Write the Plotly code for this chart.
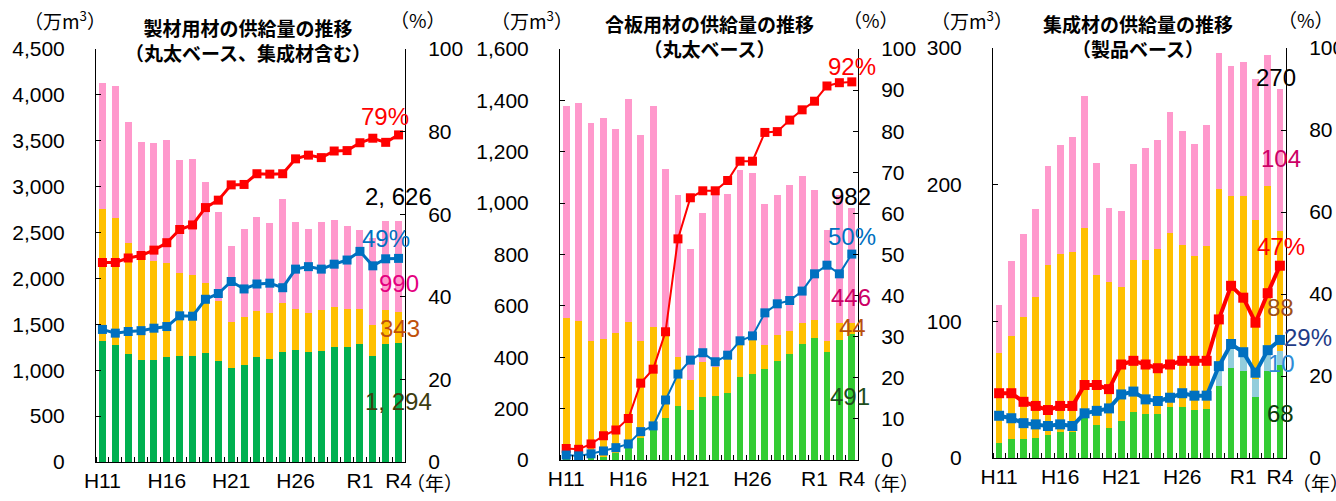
import plotly.graph_objects as go

# ---------------- data ----------------
years = ["H11", "H12", "H13", "H14", "H15", "H16", "H17", "H18", "H19", "H20",
         "H21", "H22", "H23", "H24", "H25", "H26", "H27", "H28", "H29", "H30",
         "R1", "R2", "R3", "R4"]
tick_years = ["H11", "H16", "H21", "H26", "R1", "R4"]

# 製材用材 (万m3)
saw_green = [1318, 1275, 1173, 1111, 1111, 1144, 1155, 1158, 1191, 1104, 1021, 1053,
             1144, 1122, 1198, 1220, 1198, 1213, 1256, 1253, 1286, 1158, 1282, 1294]
saw_yellow = [1435, 1380, 1217, 1090, 1079, 1028, 901, 876, 756, 650, 508, 524,
              498, 501, 531, 444, 422, 447, 430, 414, 378, 331, 378, 343]
saw_pink = [1373, 1445, 1318, 1289, 1289, 1336, 1234, 1271, 1107, 966, 824, 962,
            1024, 985, 1137, 954, 919, 958, 951, 908, 864, 951, 962, 990]
saw_red = [48.3, 48.3, 49.4, 50.0, 51.3, 53.1, 56.3, 57.4, 61.6, 63.4, 67.1, 67.2,
           69.8, 69.7, 69.8, 73.4, 74.3, 73.7, 75.3, 75.4, 77.3, 78.4, 77.4, 79.2]
saw_blue = [32.1, 31.2, 31.6, 31.8, 32.4, 32.8, 35.4, 35.3, 39.4, 40.8, 43.7, 41.9,
            43.1, 43.3, 42.2, 46.7, 47.3, 46.7, 47.9, 48.9, 51.0, 47.5, 49.2, 49.3]

# 合板用材 (万m3)
ply_green = [2, 3, 6, 12, 27, 45, 84, 117, 162, 211, 195, 247,
             250, 259, 324, 333, 353, 387, 413, 450, 474, 419, 467, 491]
ply_yellow = [552, 538, 458, 459, 466, 493, 380, 402, 351, 189, 116, 133,
              113, 156, 156, 154, 95, 100, 89, 82, 71, 45, 68, 44]
ply_pink = [824, 847, 849, 859, 794, 866, 801, 859, 618, 631, 509, 580,
            675, 619, 649, 631, 548, 544, 568, 573, 506, 431, 495, 446]
ply_red = [2.8, 2.6, 3.9, 5.9, 7.3, 10.1, 18.7, 22.1, 31.2, 53.8, 63.8, 65.5,
           65.5, 68.0, 72.7, 72.7, 79.7, 79.9, 82.7, 85.2, 87.3, 91.0, 91.8, 92.0]
ply_blue = [1.2, 1.0, 1.5, 2.2, 3.0, 3.9, 6.9, 8.3, 14.6, 20.9, 24.3, 26.1,
            23.9, 25.5, 29.0, 30.2, 35.8, 38.0, 38.8, 41.1, 45.3, 47.4, 45.3, 50.1]

# 集成材 (万m3)
gl_green = [11, 14, 14, 15, 17, 19, 19, 29, 24, 22, 27, 34,
            32, 32, 37, 37, 35, 36, 53, 66, 64, 45, 64, 68]
gl_lblue = [0, 0, 0, 0, 0, 0, 0, 0, 0, 0, 0, 0,
            0, 0, 0, 0, 0, 0, 13, 14, 11, 13, 14, 10]
gl_yellow = [66, 75, 89, 103, 124, 130, 132, 139, 110, 107, 98, 111,
             113, 121, 128, 119, 113, 119, 131, 112, 117, 116, 121, 88]
gl_pink = [35, 55, 61, 64, 73, 80, 84, 97, 82, 54, 56, 70,
           82, 80, 88, 83, 82, 89, 99, 95, 98, 103, 96, 104]
gl_red = [15.8, 15.8, 13.7, 12.7, 11.7, 12.7, 12.7, 17.8, 17.8, 16.8, 22.8, 23.7,
          22.8, 21.9, 22.8, 23.7, 23.7, 23.7, 33.8, 42.0, 39.1, 33.0, 40.2, 46.9]
gl_blue = [10.3, 9.7, 8.5, 8.2, 7.8, 8.2, 7.8, 10.9, 11.5, 12.1, 15.5, 16.2,
           14.3, 13.9, 14.7, 15.8, 15.2, 15.2, 22.4, 27.8, 25.8, 20.8, 26.3, 28.8]

# labels shown at the right end of each chart
saw_labels = ["2, 626", "79%", "49%", "990", "343", "1, 294"]
ply_labels = ["982", "92%", "50%", "446", "44", "491"]
gl_labels = ["270", "104", "47%", "88", "29%", "10", "68"]

# ---------------- figure ----------------
W, H = 1336, 501
def fx(p): return p / W
def fy(p): return 1 - p / H

xs = list(range(len(years)))
tickvals = [years.index(t) for t in tick_years]

GREEN1 = "#00b050"
GREEN2 = "#33cc33"
YELLOW = "#ffc000"
PINK = "#ff99cc"
LBLUE = "#92cddc"
RED = "#ff0000"
BLUE = "#0070c0"

fig = go.Figure()

panels = [
    dict(x="x", y="y", y2="y2", segs=[(saw_green, GREEN1), (saw_yellow, YELLOW), (saw_pink, PINK)],
         red=saw_red, blue=saw_blue, lw=3, ms=9),
    dict(x="x2", y="y3", y2="y4", segs=[(ply_green, GREEN2), (ply_yellow, YELLOW), (ply_pink, PINK)],
         red=ply_red, blue=ply_blue, lw=2, ms=9),
    dict(x="x3", y="y5", y2="y6", segs=[(gl_green, GREEN2), (gl_lblue, LBLUE), (gl_yellow, YELLOW), (gl_pink, PINK)],
         red=gl_red, blue=gl_blue, lw=4, ms=10),
]

for p in panels:
    for vals, col in p["segs"]:
        fig.add_trace(go.Bar(x=xs, y=vals, xaxis=p["x"], yaxis=p["y"], marker=dict(color=col, line=dict(width=0)),
                             showlegend=False, hoverinfo="skip"))
    for vals, col in [(p["red"], RED), (p["blue"], BLUE)]:
        fig.add_trace(go.Scatter(x=xs, y=vals, xaxis=p["x"], yaxis=p["y2"], mode="lines+markers",
                                 line=dict(color=col, width=p["lw"]),
                                 marker=dict(symbol="square", size=p["ms"], color=col),
                                 showlegend=False, hoverinfo="skip"))

TICKFONT = dict(family="Liberation Sans, Arial, sans-serif", size=21, color="black")

def xaxis(dom, anchor):
    return dict(domain=[fx(dom[0]), fx(dom[1])], anchor=anchor, range=[-0.5, len(years) - 0.5],
                showline=True, linecolor="black", linewidth=1, showgrid=False, zeroline=False,
                tickmode="array", tickvals=tickvals, ticktext=tick_years, ticks="",
                minor=dict(ticks="inside", tickmode="linear", tick0=-0.5, dtick=1, ticklen=5,
                           tickcolor="black", showgrid=False),
                tickfont=TICKFONT, fixedrange=True, automargin=False)

def yleft(dom, anchor, rng, dtick):
    return dict(domain=[fy(dom[1]), fy(dom[0])], anchor=anchor, range=rng, dtick=dtick, tickformat=",",
                showline=True, linecolor="black", linewidth=1, showgrid=False, zeroline=False,
                ticks="inside", ticklen=5, tickcolor="black", ticklabelstandoff=26,
                tickfont=TICKFONT, fixedrange=True, automargin=False)

def yright(dom, anchor, over, dtick):
    return dict(domain=[fy(dom[1]), fy(dom[0])], anchor=anchor, overlaying=over, side="right",
                range=[0, 100], dtick=dtick,
                showline=True, linecolor="black", linewidth=1, showgrid=False, zeroline=False,
                ticks="inside", ticklen=5, tickcolor="black", ticklabelstandoff=18,
                tickfont=TICKFONT, fixedrange=True, automargin=False)

fig.update_layout(
    width=W, height=H, margin=dict(l=0, r=0, t=0, b=0, autoexpand=False),
    paper_bgcolor="white", plot_bgcolor="rgba(0,0,0,0)",
    barmode="stack", bargap=0.45, showlegend=False,
    xaxis=xaxis((96, 405), "y"),
    yaxis=yleft((49, 462), "x", [0, 4500], 500),
    yaxis2=yright((49, 462), "x", "y", 20),
    xaxis2=xaxis((560, 858), "y3"),
    yaxis3=yleft((49, 460), "x2", [0, 1600], 200),
    yaxis4=yright((49, 460), "x2", "y3", 10),
    xaxis3=xaxis((993, 1286), "y5"),
    yaxis5=yleft((48, 458), "x3", [0, 300], 100),
    yaxis6=yright((48, 458), "x3", "y5", 20),
)

JP = "Noto Sans CJK JP, sans-serif"
NUM = "Liberation Sans, Arial, sans-serif"
ann = []

def add(text, x, y, size, color="black", family=JP, xanchor="center"):
    ann.append(dict(text=text, x=fx(x), y=fy(y), xref="paper", yref="paper", showarrow=False,
                    xanchor=xanchor, yanchor="middle", font=dict(family=family, size=size, color=color)))

# titles (two lines each)
add("<b>製材用材の供給量の推移</b><br><b>（丸太ベース、集成材含む）</b>", 248, 40, 19)
add("<b>合板用材の供給量の推移</b><br><b>（丸太ベース）</b>", 709, 36, 19)
add("<b>集成材の供給量の推移</b><br><b>（製品ベース）</b>", 1138, 36, 19)

# units
for ux, px_ in [(65, 418), (532, 871), (972, 1306)]:
    add("（万m<sup>3</sup>）", ux, 20, 19)
    add("（%）", px_, 20, 19)
for yx in [434, 890, 1320]:
    add("（年）", yx, 482, 19)

LS = 24
# end labels, panel 1
add(saw_labels[0], 398, 196, LS, "#000000", NUM)
add(saw_labels[1], 385, 116, LS, RED, NUM)
add(saw_labels[2], 386, 239, LS, BLUE, NUM)
add(saw_labels[3], 399, 283, LS, "#e4007f", NUM)
add(saw_labels[4], 400, 328, LS, "#c0500a", NUM)
add(saw_labels[5], 398, 401, LS, "#3d3d10", NUM)
# panel 2
add(ply_labels[0], 851, 196, LS, "#000000", NUM)
add(ply_labels[1], 852, 67, LS, RED, NUM)
add(ply_labels[2], 852, 236, LS, BLUE, NUM)
add(ply_labels[3], 851, 297, LS, "#cc0066", NUM)
add(ply_labels[4], 852, 327, LS, "#b8500f", NUM)
add(ply_labels[5], 850, 396, LS, "#1e4d1e", NUM)
# panel 3
add(gl_labels[0], 1276, 77, LS, "#000000", NUM)
add(gl_labels[1], 1281, 158, LS, "#cc0066", NUM)
add(gl_labels[2], 1281, 247, LS, RED, NUM)
add(gl_labels[3], 1280, 307, LS, "#a0501a", NUM)
add(gl_labels[4], 1308, 337, LS, "#1f3c88", NUM)
add(gl_labels[5], 1281, 363, LS, "#2e8bd6", NUM)
add(gl_labels[6], 1280, 413, LS, "#0d3d0d", NUM)

fig.update_layout(annotations=ann)
fig.write_html("out.html", config={"displayModeBar": False},
               post_script="document.body.style.margin='0px';document.body.style.overflow='hidden';")
